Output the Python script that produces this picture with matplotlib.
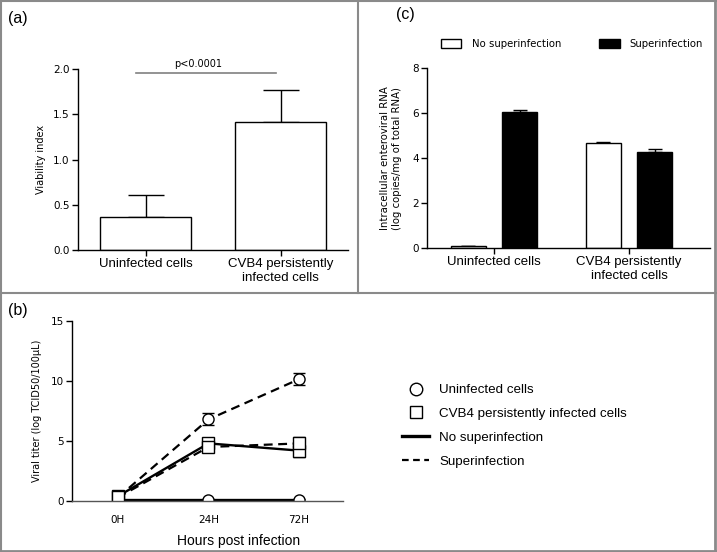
import matplotlib
matplotlib.use("Agg")
import matplotlib.pyplot as plt
from matplotlib.lines import Line2D
from matplotlib.patches import Patch
import numpy as np

plt.rcParams['font.family'] = ['Liberation Sans', 'DejaVu Sans']

# ---------------- data ----------------
cell_types = ["Uninfected cells", "CVB4 persistently\ninfected cells"]

# (a) viability index
viability = [0.36, 1.41]
viability_err = [0.25, 0.36]
p_text = "p<0.0001"
p_level = 1.96

# (c) intracellular enteroviral RNA
rna_no_super = [0.08, 4.65]
rna_no_super_err = [0.0, 0.07]
rna_super = [6.05, 4.28]
rna_super_err = [0.08, 0.10]

# (b) viral titer
hours = ["0H", "24H", "72H"]
unin_no_super = [0.05, 0.05, 0.05]
unin_no_super_err = [0.1, 0.1, 0.1]
unin_super = [0.3, 6.8, 10.15]
unin_super_err = [0.2, 0.5, 0.5]
cvb_no_super = [0.4, 4.8, 4.2]
cvb_no_super_err = [0.2, 0.4, 0.5]
cvb_super = [0.3, 4.5, 4.8]
cvb_super_err = [0.2, 0.4, 0.5]

W, H = 717, 552
fig = plt.figure(figsize=(W / 100, H / 100), dpi=100)
SMALL = dict(family=['DejaVu Sans'], size=7)


def ax_px(l, t, r, b):
    return fig.add_axes([l / W, 1 - b / H, (r - l) / W, (b - t) / H])


def style(ax):
    for s in ['top', 'right']:
        ax.spines[s].set_visible(False)
    for s in ['left', 'bottom']:
        ax.spines[s].set_linewidth(1.0)
        ax.spines[s].set_color('black')
    ax.tick_params(axis='y', direction='out', length=4, width=1, pad=2)
    ax.tick_params(axis='x', direction='out', length=4, width=1, labelsize=9.5, pad=2)
    for lab in ax.get_yticklabels():
        lab.set_fontfamily(['DejaVu Sans'])
        lab.set_fontsize(7.5)


# ---------------- panel (a) ----------------
axa = ax_px(78, 69, 348, 250)
xa = np.arange(len(cell_types))
axa.bar(xa, viability, width=0.67, color='white', edgecolor='black', linewidth=1.0, zorder=2)
axa.errorbar(xa, viability, yerr=[np.zeros(2), viability_err], fmt='none', ecolor='black',
             elinewidth=1.0, capsize=13, capthick=1.0, zorder=1)
axa.set_xlim(-0.5, 1.5)
axa.set_ylim(0, 2.0)
axa.set_yticks([0.0, 0.5, 1.0, 1.5, 2.0])
axa.set_yticklabels(["0.0", "0.5", "1.0", "1.5", "2.0"])
axa.set_xticks(xa)
axa.set_xticklabels(cell_types, linespacing=1.15)
style(axa)
axa.set_ylabel("Viability index", fontdict=SMALL, labelpad=5)
axa.plot([-0.07, 0.97], [p_level, p_level], color='#808080', lw=1.2, clip_on=False)
axa.text(0.39, p_level + 0.04, p_text, ha='center', va='bottom', fontdict=SMALL)
fig.text(8 / W, 1 - 18 / H, "(a)", fontsize=11.5, va='center', ha='left')

# ---------------- panel (c) ----------------
axc = ax_px(427, 68, 710, 248)
xc = np.arange(len(cell_types))
off = 0.19
bw = 0.26
axc.bar(xc - off, rna_no_super, width=bw, color='white', edgecolor='black', linewidth=1.0, zorder=2)
axc.bar(xc + off, rna_super, width=bw, color='black', edgecolor='black', linewidth=1.0, zorder=2)
axc.errorbar(xc - off, rna_no_super, yerr=[np.zeros(2), rna_no_super_err], fmt='none',
             ecolor='black', elinewidth=1.0, capsize=5, zorder=1)
axc.errorbar(xc + off, rna_super, yerr=[np.zeros(2), rna_super_err], fmt='none',
             ecolor='black', elinewidth=1.0, capsize=5, zorder=1)
axc.set_xlim(-0.496, 1.6)
axc.set_ylim(0, 8)
axc.set_yticks([0, 2, 4, 6, 8])
axc.set_xticks(xc)
axc.set_xticklabels(cell_types, linespacing=1.15)
style(axc)
axc.set_ylabel("Intracellular enteroviral RNA\n(log copies/mg of total RNA)",
               fontdict=dict(family=['DejaVu Sans'], size=7.3), labelpad=7, linespacing=1.3)
fig.text(396 / W, 1 - 15 / H, "(c)", fontsize=11.5, va='center', ha='left')
handles_c = [Patch(facecolor='white', edgecolor='black', linewidth=1.0),
             Patch(facecolor='black', edgecolor='black', linewidth=1.0)]
fig.legend(handles_c, ["No superinfection", "Superinfection"], ncol=2, frameon=False,
           loc='center left', bbox_to_anchor=(432 / W, 1 - 44 / H),
           prop=dict(family=['DejaVu Sans'], size=7.3),
           handlelength=2.0, handleheight=0.9, columnspacing=3.8, handletextpad=1.0)

# ---------------- panel (b) ----------------
axb = ax_px(72, 321, 343, 501)
xb = np.arange(len(hours))
kw = dict(mfc='white', mec='black', color='black', ecolor='black', capsize=4, elinewidth=1.0,
          mew=1.0, ms=8)
axb.errorbar(xb, unin_no_super, yerr=unin_no_super_err, marker='o', ls='-', lw=2.4, **kw)
axb.errorbar(xb, unin_super, yerr=unin_super_err, marker='o', ls=(0, (4, 2.5)), lw=1.6, **kw)
axb.errorbar(xb, cvb_no_super, yerr=cvb_no_super_err, marker='s', ls='-', lw=1.7, **kw)
axb.errorbar(xb, cvb_super, yerr=cvb_super_err, marker='s', ls=(0, (4, 2.5)), lw=1.6, **kw)
axb.set_xlim(-0.508, 2.486)
axb.set_ylim(0, 15)
axb.set_yticks([0, 5, 10, 15])
axb.set_xticks(xb)
axb.set_xticklabels(hours)
style(axb)
axb.tick_params(axis='x', length=0, pad=10)
for lab in axb.get_xticklabels():
    lab.set_fontfamily(['DejaVu Sans'])
    lab.set_fontsize(7.5)
axb.spines['bottom'].set_color('#555555')
axb.set_ylabel("Viral titer (log TCID50/100\u00b5L)", fontdict=SMALL, labelpad=6)
axb.set_xlabel("Hours post infection", fontsize=10)
axb.xaxis.set_label_coords(0.613, -0.183)
fig.text(8 / W, 1 - 311 / H, "(b)", fontsize=11.5, va='center', ha='left')

handles_b = [Line2D([], [], marker='o', ls='none', mfc='white', mec='black', ms=9, mew=1.0),
             Line2D([], [], marker='s', ls='none', mfc='white', mec='black', ms=9, mew=1.0),
             Line2D([], [], color='black', lw=2.4),
             Line2D([], [], color='black', lw=1.6, ls=(0, (3, 2)))]
fig.legend(handles_b, ["Uninfected cells", "CVB4 persistently infected cells",
                       "No superinfection", "Superinfection"],
           loc='upper left', bbox_to_anchor=(390 / W, 1 - 372 / H), frameon=False,
           fontsize=9.6, handlelength=2.05, handletextpad=0.75, labelspacing=0.86)

# ---------------- panel borders ----------------
bc = '#8a8a8a'
fig.add_artist(Line2D([1.5 / W, 1.5 / W], [0, 1], color=bc, lw=1.5))
fig.add_artist(Line2D([715 / W, 715 / W], [0, 1], color=bc, lw=2))
fig.add_artist(Line2D([0, 1], [1 - 550.5 / H, 1 - 550.5 / H], color=bc, lw=2))
fig.add_artist(Line2D([0, 1], [1 - 1 / H, 1 - 1 / H], color=bc, lw=1.5))
fig.add_artist(Line2D([0, 1], [1 - 293 / H, 1 - 293 / H], color=bc, lw=1.5))
fig.add_artist(Line2D([358 / W, 358 / W], [1 - 293 / H, 1], color=bc, lw=1.5))

fig.savefig("out.png", dpi=100)
